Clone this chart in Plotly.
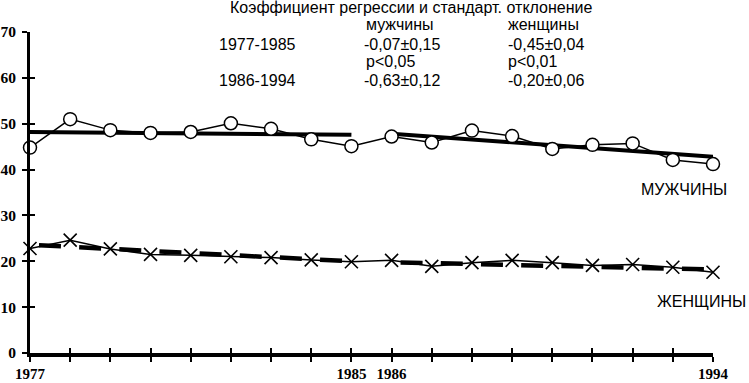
import plotly.graph_objects as go

years = list(range(1977, 1995))
men = [44.8, 51.0, 48.6, 48.0, 48.2, 50.1, 48.9, 46.6, 45.1,
       47.2, 45.9, 48.5, 47.3, 44.5, 45.4, 45.7, 42.1, 41.2]
women = [22.8, 24.6, 22.7, 21.5, 21.3, 21.0, 20.8, 20.3, 19.9,
         20.2, 18.9, 19.7, 20.2, 19.7, 19.1, 19.3, 18.7, 17.6]

fit_x1 = [1977, 1985]
fit_x2 = [1986, 1994]
men_fit1 = [48.2, 47.6]
men_fit2 = [47.8, 42.8]
women_fit1 = [23.6, 20.0]
women_fit2 = [19.8, 18.2]

tick_labels = ["1977"] + [""] * 7 + ["1985", "1986"] + [""] * 7 + ["1994"]
y_ticks = [0, 10, 20, 30, 40, 50, 60, 70]

W, H = 749, 383
L, R, T, B = 30, 36, 32, 30
PW, PH = W - L - R, H - T - B


def px(x):
    return (x - L) / PW


def py(y):
    return (H - B - y) / PH


fig = go.Figure()

# regression lines (main axes, drawn below data)
for xs, ys in [(fit_x1, men_fit1), (fit_x2, men_fit2)]:
    fig.add_trace(go.Scatter(x=xs, y=ys, mode="lines",
                             line=dict(color="black", width=4),
                             showlegend=False, cliponaxis=False))
for xs, ys in [(fit_x1, women_fit1), (fit_x2, women_fit2)]:
    fig.add_trace(go.Scatter(x=xs, y=ys, mode="lines",
                             line=dict(color="black", width=4.5,
                                       dash="0px,9px,22px,9.2px"),
                             showlegend=False, cliponaxis=False))

# data series on overlay axes (drawn on top)
fig.add_trace(go.Scatter(x=years, y=women, mode="lines+markers",
                         line=dict(color="black", width=1.5),
                         marker=dict(symbol="x-thin-open", size=13,
                                     line=dict(color="black", width=1.6)),
                         xaxis="x2", yaxis="y2",
                         showlegend=False, cliponaxis=False))
fig.add_trace(go.Scatter(x=years, y=men, mode="lines+markers",
                         line=dict(color="black", width=1.5),
                         marker=dict(symbol="circle", size=13, color="white",
                                     line=dict(color="black", width=1.5)),
                         xaxis="x2", yaxis="y2",
                         showlegend=False, cliponaxis=False))

ytickfont = dict(family="Liberation Serif", size=15.5, color="black", weight="bold")
xtickfont = dict(family="Liberation Serif", size=15, color="black", weight="bold")
xr = [1977, 1994]
yr = [0, 70]

fig.update_layout(
    width=W, height=H,
    margin=dict(l=L, r=R, t=T, b=B),
    paper_bgcolor="white", plot_bgcolor="white",
    hovermode=False,
    xaxis=dict(range=xr, tickvals=years, ticktext=tick_labels,
               showgrid=False, zeroline=False, showline=True,
               linecolor="black", linewidth=4, automargin=False,
               ticks="outside", ticklen=5, tickwidth=2, tickcolor="black",
               tickfont=xtickfont, ticklabelstandoff=-1),
    yaxis=dict(range=yr, tickvals=y_ticks,
               showgrid=False, zeroline=False, showline=True,
               linecolor="black", linewidth=3, automargin=False,
               ticks="outside", ticklen=5, tickwidth=2, tickcolor="black",
               tickfont=ytickfont, ticklabelstandoff=3),
    xaxis2=dict(range=xr, tickvals=years, overlaying="x", anchor="y2",
                side="bottom", showgrid=False, zeroline=False, showline=False,
                ticks="inside", ticklen=5, tickwidth=2, tickcolor="black",
                showticklabels=False, automargin=False),
    yaxis2=dict(range=yr, tickvals=y_ticks, overlaying="y", anchor="x2",
                side="left", showgrid=False, zeroline=False, showline=False,
                ticks="inside", ticklen=5, tickwidth=2, tickcolor="black",
                showticklabels=False, automargin=False),
)

afont = dict(family="Liberation Sans, Arial", size=16, color="black")
texts = [
    ("Коэффициент регрессии и стандарт. отклонение", 228, 7.5, "left"),
    ("мужчины", 364, 24.5, "left"),
    ("женщины", 506, 24.5, "left"),
    ("1977-1985", 217, 44.5, "left"),
    ("-0,07±0,15", 362, 44.5, "left"),
    ("-0,45±0,04", 506, 44.5, "left"),
    ("p<0,05", 364, 61.5, "left"),
    ("p<0,01", 506, 61.5, "left"),
    ("1986-1994", 217, 80.5, "left"),
    ("-0,63±0,12", 362, 80.5, "left"),
    ("-0,20±0,06", 506, 80.5, "left"),
    ("МУЖЧИНЫ", 639, 189, "left"),
    ("ЖЕНЩИНЫ", 748, 301, "right"),
]
for t, x, y, anc in texts:
    fig.add_annotation(text=t, x=px(x), y=py(y), xref="paper", yref="paper",
                       xanchor=anc, yanchor="middle", showarrow=False,
                       font=afont)

fig.write_html("out.html",
               config={"displayModeBar": False},
               post_script="document.body.style.margin='0';"
                           "document.body.style.overflow='hidden';")
